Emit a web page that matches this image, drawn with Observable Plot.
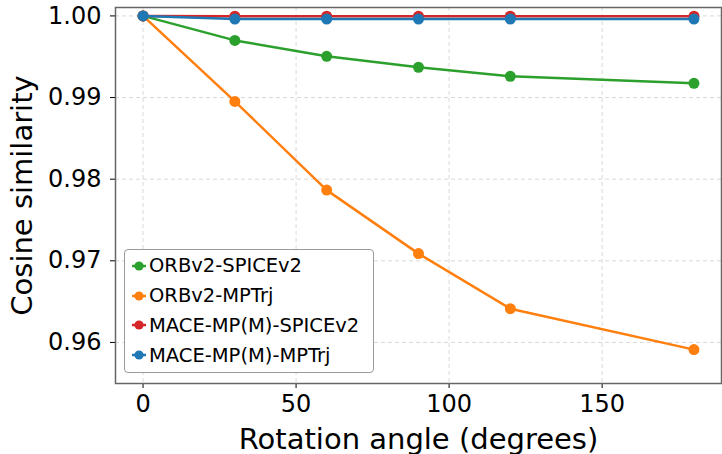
<!DOCTYPE html>
<html>
<head>
<meta charset="utf-8">
<script src="https://cdn.jsdelivr.net/npm/d3@7"></script>
<script src="https://cdn.jsdelivr.net/npm/@observablehq/plot@0.6"></script>
<style>
  html, body { margin: 0; padding: 0; background: #fff; }
  #wrap { position: relative; width: 722px; height: 454px; overflow: hidden; font-family: "DejaVu Sans", sans-serif; }
  #legend { position: absolute; left: 124px; top: 249px; width: 250px; height: 124px; box-sizing: border-box;
            border: 1.5px solid #9a9a9a; border-radius: 4px; background: rgba(255,255,255,0.9); padding: 1px 0 0 6px; }
  .row { display: flex; align-items: center; height: 29.8px; font-size: 19.5px; color: #000; }
  .row svg { margin-right: 2px; }
</style>
</head>
<body>
<div id="wrap"></div>
<script>
const angles = [0, 30, 60, 90, 120, 180];
const seriesNames = ["ORBv2-SPICEv2", "ORBv2-MPTrj", "MACE-MP(M)-SPICEv2", "MACE-MP(M)-MPTrj"];
const seriesColors = ["#2ca02c", "#ff7f0e", "#d62728", "#1f77b4"];
const orbSpice = [1.0, 0.9970, 0.99505, 0.99371, 0.99260, 0.99174];
const orbMptrj = [1.0, 0.98953, 0.97866, 0.97088, 0.96413, 0.95912];
const maceSpice = [1.0, 0.99996, 0.99996, 0.99996, 0.99996, 0.99996];
const maceMptrj = [1.0, 0.99962, 0.99962, 0.99962, 0.99962, 0.99962];
const xTicks = [0, 50, 100, 150];
const yTicks = [0.96, 0.97, 0.98, 0.99, 1.00];

const allSeries = [orbSpice, orbMptrj, maceSpice, maceMptrj];
const data = [];
allSeries.forEach((vals, i) => vals.forEach((v, j) => data.push({series: seriesNames[i], angle: angles[j], value: v})));

const colorScale = {domain: seriesNames, range: seriesColors};

const marks = [
  Plot.gridX(xTicks, {stroke: "#cfcfcf", strokeOpacity: 1, strokeDasharray: "4,3", strokeWidth: 0.8}),
  Plot.gridY(yTicks, {stroke: "#cfcfcf", strokeOpacity: 1, strokeDasharray: "4,3", strokeWidth: 0.8}),
  Plot.axisX({ticks: xTicks, tickSize: 5, tickPadding: 6, fontSize: 24, label: "Rotation angle (degrees)", labelArrow: "none", labelAnchor: "center", labelOffset: 65}),
  Plot.axisY({ticks: yTicks, tickSize: 5, tickPadding: 9, fontSize: 24, tickFormat: d3.format(".2f"), label: "Cosine similarity", labelArrow: "none", labelAnchor: "center", labelOffset: 104}),
];
seriesNames.forEach((name) => {
  const d = data.filter(r => r.series === name);
  marks.push(Plot.line(d, {x: "angle", y: "value", stroke: "series", strokeWidth: 2.5}));
  marks.push(Plot.dot(d, {x: "angle", y: "value", fill: "series", r: 5.5}));
});
marks.push(Plot.frame({stroke: "#666", strokeWidth: 1.5}));

const chart = Plot.plot({
  width: 722,
  height: 454,
  marginLeft: 115,
  marginRight: 1,
  marginTop: 7,
  marginBottom: 71,
  style: {fontFamily: "DejaVu Sans, sans-serif", color: "#000", background: "#fff", overflow: "visible"},
  x: {domain: [-9, 189]},
  y: {domain: [0.95497, 1.00103]},
  color: colorScale,
  marks
});
chart.querySelectorAll("[aria-label='x-axis label'] text, [aria-label='y-axis label'] text").forEach(t => {
  t.setAttribute("font-size", 29);
  t.textContent = t.textContent.replace(/\s*[→↑←↓]\s*/g, "").trim();
});
const wrap = document.getElementById("wrap");
wrap.appendChild(chart);

const legend = document.createElement("div");
legend.id = "legend";
seriesNames.forEach((name, i) => {
  const row = document.createElement("div");
  row.className = "row";
  row.innerHTML = `<svg width="16" height="12"><line x1="1" y1="6" x2="15" y2="6" stroke="${seriesColors[i]}" stroke-width="2.5"/><circle cx="8" cy="6" r="4.6" fill="${seriesColors[i]}"/></svg><span>${name}</span>`;
  legend.appendChild(row);
});
wrap.appendChild(legend);
</script>
</body>
</html>
